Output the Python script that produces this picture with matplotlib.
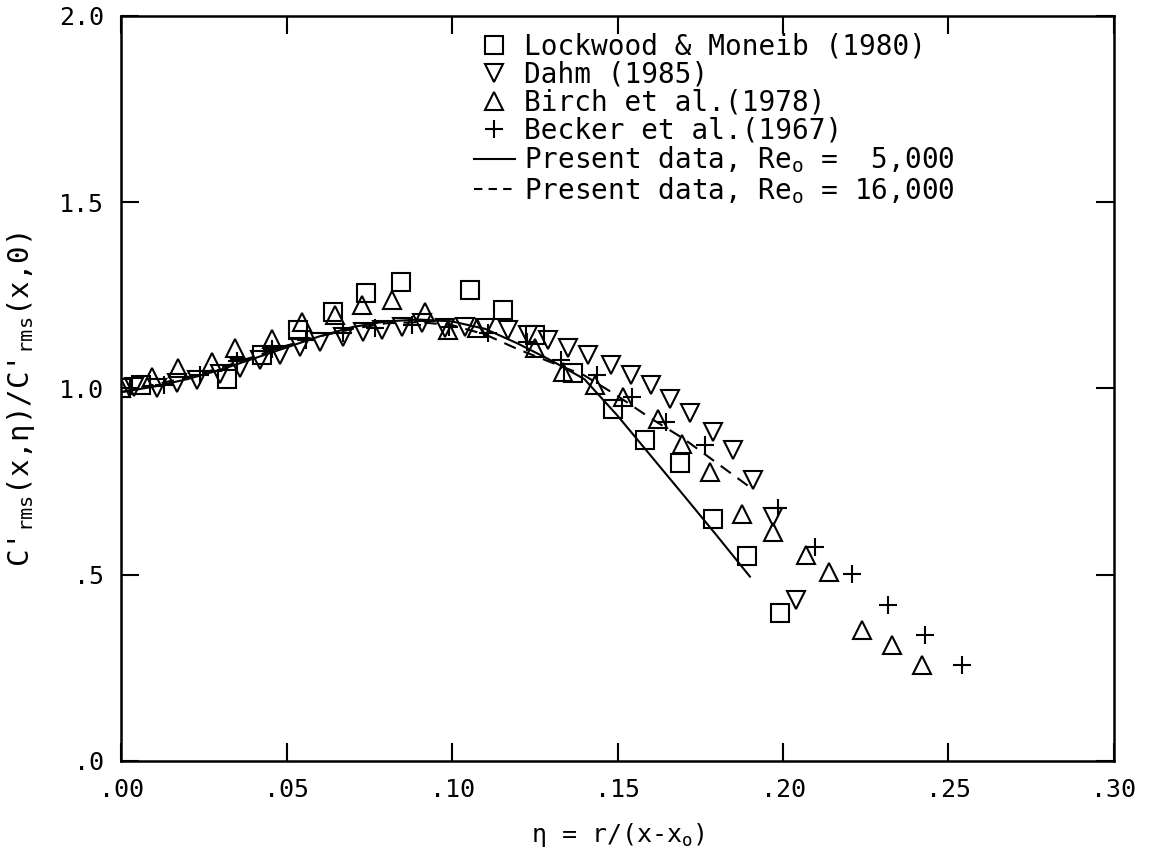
import matplotlib
matplotlib.use("Agg")
import matplotlib.pyplot as plt
from matplotlib.lines import Line2D

plt.rcParams['font.family'] = ['DejaVu Sans Mono', 'DejaVu Sans']
plt.rcParams['mathtext.default'] = 'regular'

# Lockwood & Moneib (1980)
lm_x = [0.0, 0.006, 0.032, 0.0425, 0.0535, 0.064, 0.074, 0.0845, 0.1055, 0.1155,
        0.125, 0.1367, 0.1487, 0.1583, 0.169, 0.179, 0.189, 0.199]
lm_y = [1.0, 1.01, 1.025, 1.09, 1.157, 1.206, 1.255, 1.285, 1.264, 1.211,
        1.144, 1.041, 0.944, 0.862, 0.799, 0.65, 0.55, 0.396]

# Dahm (1985)
da_x = [0.004, 0.011, 0.017, 0.023, 0.030, 0.036, 0.042, 0.048, 0.054, 0.060,
        0.067, 0.073, 0.079, 0.085, 0.091, 0.098, 0.104, 0.110, 0.117, 0.123,
        0.129, 0.135, 0.141, 0.148, 0.154, 0.160, 0.166, 0.172, 0.179, 0.185,
        0.191, 0.197, 0.204]
da_y = [1.005, 1.00, 1.014, 1.023, 1.04, 1.055, 1.077, 1.09, 1.112, 1.125,
        1.139, 1.152, 1.157, 1.166, 1.175, 1.161, 1.166, 1.162, 1.157, 1.144,
        1.130, 1.108, 1.09, 1.063, 1.036, 1.009, 0.973, 0.933, 0.884, 0.835,
        0.754, 0.656, 0.432]

# Birch et al. (1978)
bi_x = [0.0, 0.0093, 0.0173, 0.0274, 0.0344, 0.0455, 0.0546, 0.0647, 0.0727,
        0.0818, 0.0918, 0.0989, 0.1075, 0.125, 0.1336, 0.1432, 0.1518, 0.1623,
        0.1694, 0.178, 0.1875, 0.197, 0.207, 0.214, 0.224, 0.233, 0.242]
bi_y = [1.0, 1.032, 1.054, 1.072, 1.108, 1.134, 1.179, 1.197, 1.224,
        1.238, 1.206, 1.157, 1.163, 1.108, 1.045, 1.009, 0.978, 0.919,
        0.85, 0.777, 0.664, 0.616, 0.553, 0.508, 0.352, 0.311, 0.258]

# Becker et al. (1967)
be_x = [0.0, 0.013, 0.024, 0.035, 0.0455, 0.056, 0.067, 0.0767, 0.0878, 0.099,
        0.111, 0.1226, 0.133, 0.1437, 0.1543, 0.1648, 0.1764, 0.1986, 0.2097,
        0.2207, 0.2318, 0.2429, 0.254]
be_y = [1.0, 1.01, 1.035, 1.075, 1.105, 1.13, 1.15, 1.162, 1.17, 1.166,
        1.15, 1.125, 1.077, 1.036, 0.978, 0.91, 0.848, 0.678, 0.575,
        0.503, 0.419, 0.338, 0.258]

# present data, two Reynolds numbers
eta = [0.0, 0.01, 0.02, 0.03, 0.04, 0.05, 0.06, 0.07, 0.08, 0.09,
       0.10, 0.11, 0.12, 0.13, 0.14, 0.15, 0.16, 0.17, 0.18, 0.19]
re5k = [0.99, 1.005, 1.025, 1.05, 1.08, 1.11, 1.14, 1.165, 1.18, 1.185,
        1.18, 1.16, 1.12, 1.075, 1.025, 0.927, 0.82, 0.713, 0.605, 0.495]
re16k = [0.99, 1.01, 1.03, 1.055, 1.085, 1.115, 1.14, 1.16, 1.175, 1.178,
         1.17, 1.145, 1.105, 1.07, 1.035, 0.98, 0.92, 0.865, 0.80, 0.735]

xticks = [0.0, 0.05, 0.10, 0.15, 0.20, 0.25, 0.30]
xlabels = ['.00', '.05', '.10', '.15', '.20', '.25', '.30']
yticks = [0.0, 0.5, 1.0, 1.5, 2.0]
ylabels = ['.0', '.5', '1.0', '1.5', '2.0']

fig = plt.figure(figsize=(11.58, 8.67), dpi=100)
ax = fig.add_axes([0.1045, 0.1223, 0.8575, 0.8593])

mk = dict(ls='none', mfc='none', mec='black', mew=1.5, ms=13.5)
ax.plot(lm_x, lm_y, marker='s', **mk)
ax.plot(da_x, da_y, marker='v', **mk)
ax.plot(bi_x, bi_y, marker='^', **mk)
ax.plot(be_x, be_y, marker='+', **mk)
ax.plot(eta, re5k, color='black', lw=1.5)
ax.plot(eta, re16k, color='black', lw=1.5, ls=(0, (6, 4)))

ax.set_xlim(0, 0.30)
ax.set_ylim(0, 2.0)
ax.set_xticks(xticks)
ax.set_xticklabels(xlabels)
ax.set_yticks(yticks)
ax.set_yticklabels(ylabels)
ax.tick_params(direction='in', length=13, width=1.5, labelsize=18,
               top=True, right=True, pad=12)
for s in ax.spines.values():
    s.set_linewidth(1.8)

ax.set_xlabel(r'$\eta$ = r/(x-x$_o$)', fontsize=18, labelpad=14)
ax.set_ylabel(r"C$'_{rms}$(x,$\eta$)/C$'_{rms}$(x,0)", fontsize=21)
ax.yaxis.set_label_coords(-0.085, 0.485)

handles = [
    Line2D([], [], marker='s', **mk),
    Line2D([], [], marker='v', **mk),
    Line2D([], [], marker='^', **mk),
    Line2D([], [], marker='+', **mk),
    Line2D([], [], color='black', lw=1.5),
    Line2D([], [], color='black', lw=1.5, ls=(0, (4, 3))),
]
labels = ['Lockwood & Moneib (1980)', 'Dahm (1985)', 'Birch et al.(1978)',
          'Becker et al.(1967)', 'Present data, Re$_o$ =  5,000',
          'Present data, Re$_o$ = 16,000']
ax.legend(handles, labels, loc='upper left', bbox_to_anchor=(0.355, 0.978),
          frameon=False, fontsize=20, handlelength=1.5, handletextpad=0.3,
          labelspacing=0.0, borderpad=0, borderaxespad=0, numpoints=1)

fig.savefig('out.png', dpi=100)
